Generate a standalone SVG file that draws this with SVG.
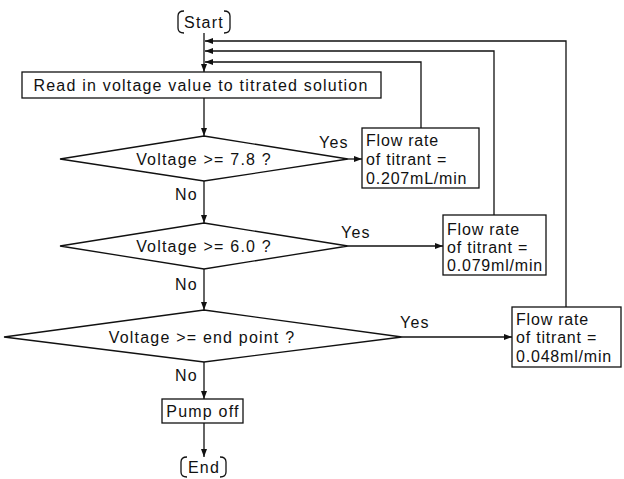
<svg xmlns="http://www.w3.org/2000/svg" width="624" height="479" viewBox="0 0 624 479">
<defs>
<marker id="ah" markerUnits="userSpaceOnUse" markerWidth="8" markerHeight="8" viewBox="0 0 8 8" refX="8" refY="4" orient="auto">
<path d="M0,1 L8,4 L0,7 Z" fill="#111"/>
</marker>
</defs>
<style>
.ln{fill:none;stroke:#111;stroke-width:1.3}
.bx{fill:#fff;stroke:#111;stroke-width:1.3}
.t{font-family:"Liberation Sans",Arial,sans-serif;font-size:16px;fill:#111;letter-spacing:1.2px}
.s{letter-spacing:0.8px}
.c{text-anchor:middle}
</style>
<rect width="624" height="479" fill="#fff"/>
<g id="connectors">
<line class="ln" x1="204" y1="33" x2="204" y2="72" marker-end="url(#ah)"/>
<line class="ln" x1="204" y1="98" x2="204" y2="136" marker-end="url(#ah)"/>
<line class="ln" x1="204" y1="181" x2="204" y2="223" marker-end="url(#ah)"/>
<line class="ln" x1="204" y1="269" x2="204" y2="310" marker-end="url(#ah)"/>
<line class="ln" x1="204" y1="362" x2="204" y2="399" marker-end="url(#ah)"/>
<line class="ln" x1="204" y1="423" x2="204" y2="457" marker-end="url(#ah)"/>
<line class="ln" x1="348" y1="159" x2="362" y2="159" marker-end="url(#ah)"/>
<line class="ln" x1="348" y1="246" x2="443" y2="246" marker-end="url(#ah)"/>
<line class="ln" x1="402" y1="337" x2="512" y2="337" marker-end="url(#ah)"/>
<polyline class="ln" points="421,128 421,62 205,62" marker-end="url(#ah)"/>
<polyline class="ln" points="494,215 494,51 205,51" marker-end="url(#ah)"/>
<polyline class="ln" points="566,307 566,41 205,41" marker-end="url(#ah)"/>
<text class="t" x="319" y="148">Yes</text>
<text class="t" x="341" y="238">Yes</text>
<text class="t" x="400" y="328">Yes</text>
<text class="t" x="175" y="200">No</text>
<text class="t" x="175" y="290">No</text>
<text class="t" x="175" y="381">No</text>
</g>
<g id="start">
<path class="ln" d="M184,11 Q178,11 178,16 V28 Q178,33 184,33"/>
<path class="ln" d="M224,11 Q230,11 230,16 V28 Q230,33 224,33"/>
<text class="t c" x="204" y="28">Start</text>
</g>
<g id="read">
<rect class="bx" x="22" y="72" width="359" height="26"/>
<text class="t c" x="201" y="91">Read in voltage value to titrated solution</text>
</g>
<g id="d1">
<polygon class="bx" points="204,136 348,159 204,181 60,159"/>
<text class="t c" x="204" y="165">Voltage &gt;= 7.8 ?</text>
</g>
<g id="d2">
<polygon class="bx" points="204,223 348,246 204,269 60,246"/>
<text class="t c" x="204" y="252">Voltage &gt;= 6.0 ?</text>
</g>
<g id="d3">
<polygon class="bx" points="204,310 402,337 204,362 4,337"/>
<text class="t c" x="202" y="343">Voltage &gt;= end point ?</text>
</g>
<g id="f1">
<rect class="bx" x="362" y="128" width="117" height="60"/>
<text class="t s" x="366" y="146">Flow rate</text>
<text class="t s" x="366" y="165">of titrant =</text>
<text class="t s" x="366" y="184">0.207mL/min</text>
</g>
<g id="f2">
<rect class="bx" x="443" y="215" width="103" height="60"/>
<text class="t s" x="447" y="235">Flow rate</text>
<text class="t s" x="447" y="253">of titrant =</text>
<text class="t s" x="447" y="271">0.079ml/min</text>
</g>
<g id="f3">
<rect class="bx" x="512" y="307" width="109" height="60"/>
<text class="t s" x="516" y="325">Flow rate</text>
<text class="t s" x="516" y="343">of titrant =</text>
<text class="t s" x="516" y="362">0.048ml/min</text>
</g>
<g id="pump">
<rect class="bx" x="162" y="399" width="81" height="24"/>
<text class="t c" x="203" y="417">Pump off</text>
</g>
<g id="end">
<path class="ln" d="M187,457 Q181,457 181,462 V472 Q181,477 187,477"/>
<path class="ln" d="M220,457 Q226,457 226,462 V472 Q226,477 220,477"/>
<text class="t c" x="204" y="473">End</text>
</g>
</svg>
